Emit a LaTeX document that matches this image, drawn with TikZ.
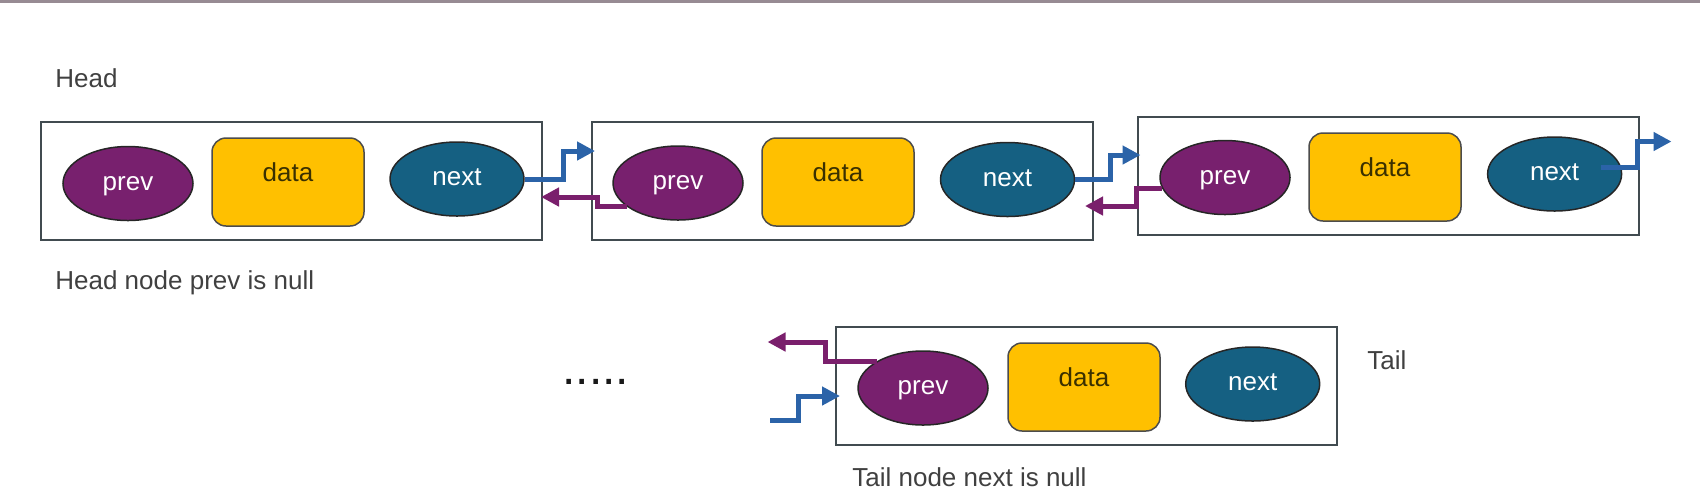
\documentclass[tikz,border=0pt]{standalone}
\usepackage{fontspec}
\setmainfont{Liberation Sans}
\usetikzlibrary{calc,arrows.meta,shapes.geometric}
\definecolor{prevfill}{HTML}{78206E}
\definecolor{nextfill}{HTML}{156082}
\definecolor{datafill}{HTML}{FFC000}
\definecolor{bluearr}{HTML}{2B63A8}
\definecolor{purparr}{HTML}{7A1F6C}
\definecolor{boxline}{HTML}{414B50}
\definecolor{txtgray}{HTML}{404040}
\definecolor{topline}{HTML}{978B93}
\definecolor{datatext}{HTML}{3A3000}
\begin{document}
\begin{tikzpicture}[x=0.5pt,y=-0.5pt,
  every node/.style={font=\fontsize{13}{15}\selectfont},
  holder/.style={draw=boxline,line width=1pt,rectangle,inner sep=0pt,minimum width=250.5pt,minimum height=59pt},
  ovalbase/.style={ellipse,draw=black!85,line width=0.75pt,text=white,minimum height=37pt,inner sep=0pt,text height=9.5pt,text depth=2.7pt},
  prevnode/.style={ovalbase,fill=prevfill,minimum width=65pt},
  nextnode/.style={ovalbase,fill=nextfill,minimum width=67pt},
  datanode/.style={rectangle,rounded corners=7pt,draw=black!70,line width=0.75pt,fill=datafill,text=datatext,minimum width=76pt,minimum height=44pt,inner sep=0pt,text height=9.5pt,text depth=10pt},
  txtlbl/.style={anchor=base west,inner sep=0pt,text=txtgray},
  blueconn/.style={draw=bluearr,line width=2.5pt,-{Triangle[length=9pt,width=9pt]}},
  purpconn/.style={draw=purparr,line width=2.5pt,-{Triangle[length=9pt,width=9pt]}}
]
\useasboundingbox (0,0) rectangle (1700,500);
\fill[topline] (0,0) rectangle (1700,2.5);

% texts
\node[txtlbl] (headlbl) at (55,87.5) {Head};
\node[txtlbl] (headnull) at (55,289) {Head node prev is null};
\node[txtlbl] (taillbl) at (1367,369) {Tail};
\node[txtlbl] (tailnull) at (852,486) {Tail node next is null};
\node[anchor=base west,inner sep=0pt,text=black!90,font=\fontsize{24}{24}\selectfont] (dots) at (562,384.5) {.....};

% holders
\node[holder] (box1) at (291.5,181) {};
\node[holder] (box2) at (842.5,181) {};
\node[holder] (box3) at (1388.5,175.5) {};
\node[holder] (box4) at (1086.5,386) {};

% fields
\node[prevnode] (prev1) at (128,183.5) {prev};
\node[datanode] (data1) at (288,182) {data};
\node[nextnode] (next1) at (457,179) {next};

\node[prevnode] (prev2) at (678,183) {prev};
\node[datanode] (data2) at (838,182) {data};
\node[nextnode] (next2) at (1007.5,179.5) {next};

\node[prevnode] (prev3) at (1225,177.5) {prev};
\node[datanode] (data3) at (1385,177) {data};
\node[nextnode] (next3) at (1554.6,174) {next};

\node[prevnode] (prev4) at (923,388) {prev};
\node[datanode] (data4) at (1084,387) {data};
\node[nextnode] (next4) at (1252.7,384) {next};

% free ends
\coordinate (n3out) at ($(box3.east)+(31.5,-34)$);
\coordinate (t4out) at ($(box4.west)+(-67.5,-44)$);
\coordinate (t4in) at ($(box4.west)+(-65,34)$);

% next links
\draw[blueconn] (next1.east) -- ++(39,0) |- ($(box2.west)+(4,-30)$);
\draw[blueconn] (next2.east) -- ++(35,0) |- ($(box3.west)+(3.5,-20.5)$);
\draw[blueconn] ($(next3.center)+(46,-7)$) -- ++(37,0) |- (n3out);
\draw[blueconn] (t4in) -- ++(28,0) |- ($(box4.west)+(5,10)$);

% prev links
\draw[purpconn] ($(prev2.center)+(-51,23)$) -- ++(-30,0) |- ($(box1.east)+(-2,16)$);
\draw[purpconn] ($(prev3.center)+(-63,10.5)$) -- ++(-26,0) |- ($(box2.east)+(-9,25)$);
\draw[purpconn] ($(prev4.center)+(-46,-26.3)$) -- ++(-52,0) |- (t4out);
\end{tikzpicture}
\end{document}
